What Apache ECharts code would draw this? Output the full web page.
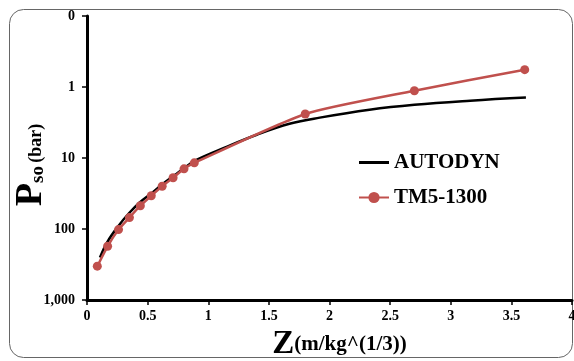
<!DOCTYPE html>
<html><head><meta charset="utf-8">
<script src="https://cdn.jsdelivr.net/npm/echarts@6/dist/echarts.min.js"></script>
<style>html,body{margin:0;padding:0;background:#fff}#c{width:574px;height:361px}</style>
</head><body><div id="c"></div>
<script>
// AUTODYN (smooth black curve)
const autodynZ = [0.107,0.165,0.256,0.346,0.437,0.536,0.627,0.718,0.808,0.89,1.14,1.40,1.67,1.92,2.33,2.70,3.16,3.62];
const autodynP = [252,155,92,60,42,31,23,17.7,13.6,10.9,7.1,4.7,3.3,2.7,2.09,1.78,1.56,1.41];
// TM5-1300 (red with markers)
const tmZ = [0.085,0.17,0.26,0.35,0.44,0.53,0.62,0.71,0.80,0.885,1.80,2.70,3.61];
const tmP = [334,175,102,69,47,34,25,19,14.2,11.7,2.4,1.13,0.57];
const xTicks = [0,0.5,1,1.5,2,2.5,3,3.5,4];
const yTicks = [0.1,1,10,100,1000];
const yTickLabels = ['0','1','10','100','1,000'];

const serif = '"Liberation Serif","DejaVu Serif",serif';
const chart = echarts.init(document.getElementById('c'));
chart.setOption({
  animation:false,
  backgroundColor:'#fff',
  graphic:[{type:'rect',shape:{x:9.5,y:9.5,width:563,height:348,r:14},style:{fill:'none',stroke:'#666',lineWidth:1},z:-1}],
  grid:{left:87,right:2,top:16,bottom:61,containLabel:false,outerBoundsMode:'none'},
  legend:{
    orient:'vertical',left:353,top:147,itemWidth:30,itemHeight:14,itemGap:14,
    data:[{name:'AUTODYN',icon:'path://M0,0H30V3H0Z'},{name:'TM5-1300'}],
    textStyle:{fontFamily:serif,fontWeight:'bold',fontSize:21,color:'#000'}
  },
  xAxis:{
    type:'value',min:0,max:4,interval:0.5,
    axisLine:{lineStyle:{color:'#000',width:3}},
    axisTick:{show:true,length:5,lineStyle:{color:'#000',width:1.5}},
    splitLine:{show:false},
    axisLabel:{fontFamily:serif,fontWeight:'bold',fontSize:14,color:'#000',margin:9,
      formatter:v=>String(v)},
    name:'{z|Z}{u|(m/kg^(1/3))}',nameLocation:'middle',nameGap:28,nameMoveOverlap:false,
    nameTextStyle:{padding:[0,0,0,20],rich:{
      z:{fontFamily:serif,fontWeight:'bold',fontSize:33,color:'#000',verticalAlign:'bottom'},
      u:{fontFamily:serif,fontWeight:'bold',fontSize:21,color:'#000',verticalAlign:'bottom',padding:[0,0,6,0]}
    }}
  },
  yAxis:{
    type:'log',min:0.1,max:1000,logBase:10,inverse:true,
    axisLine:{show:true,lineStyle:{color:'#000',width:3}},
    axisTick:{show:true,length:5,lineStyle:{color:'#000',width:1.5}},
    minorTick:{show:false},
    splitLine:{show:false},
    axisLabel:{fontFamily:serif,fontWeight:'bold',fontSize:14,color:'#000',margin:12,
      formatter:v=>{const i=yTicks.findIndex(t=>Math.abs(Math.log10(t)-Math.log10(v))<1e-6);return i>=0?yTickLabels[i]:'';}},
    name:'{p|P}{s|so} {b|(bar)}',nameLocation:'middle',nameRotate:90,nameGap:37,nameMoveOverlap:false,
    nameTextStyle:{padding:[0,14,0,0],rich:{
      p:{fontFamily:serif,fontWeight:'bold',fontSize:38,color:'#000',verticalAlign:'bottom'},
      s:{fontFamily:serif,fontWeight:'bold',fontSize:19,color:'#000',verticalAlign:'bottom',padding:[0,0,2,0]},
      b:{fontFamily:serif,fontWeight:'bold',fontSize:18,color:'#000',verticalAlign:'bottom',padding:[0,0,5,0]}
    }}
  },
  series:[
    {name:'AUTODYN',type:'line',smooth:0.4,symbol:'none',
      data:autodynZ.map((z,i)=>[z,autodynP[i]]),
      lineStyle:{color:'#000',width:2.5},itemStyle:{color:'#000'},z:2},
    {name:'TM5-1300',type:'line',smooth:0.2,symbol:'circle',symbolSize:9,
      data:tmZ.map((z,i)=>[z,tmP[i]]),
      lineStyle:{color:'#C0504D',width:2.5},itemStyle:{color:'#C0504D'},z:3}
  ]
});
</script></body></html>
